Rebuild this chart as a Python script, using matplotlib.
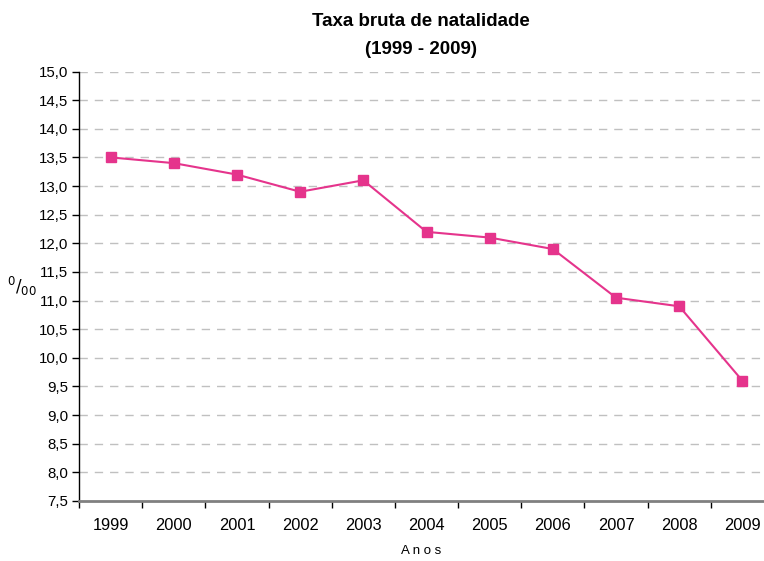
import matplotlib
matplotlib.use("Agg")
import matplotlib.pyplot as plt
import numpy as np

anos = ["1999", "2000", "2001", "2002", "2003", "2004", "2005", "2006", "2007", "2008", "2009"]
taxa = [13.5, 13.4, 13.2, 12.9, 13.1, 12.2, 12.1, 11.9, 11.05, 10.9, 9.6]
yticks = [7.5, 8.0, 8.5, 9.0, 9.5, 10.0, 10.5, 11.0, 11.5, 12.0, 12.5, 13.0, 13.5, 14.0, 14.5, 15.0]

plt.rcParams['font.family'] = ['Liberation Sans', 'DejaVu Sans']

fig = plt.figure(figsize=(7.64, 5.61), dpi=100)
W, H = 764, 561
left, right, top, bottom = 79, 774, 71.5, 501
ax = fig.add_axes([left / W, 1 - bottom / H, (right - left) / W, (bottom - top) / H])

x = np.arange(len(anos))
ax.plot(x, taxa, color='#E5348C', lw=1.5, marker='s', markersize=6.5,
        markerfacecolor='#E5348C', markeredgecolor='#E5348C', zorder=3)

ax.set_xlim(-0.5, len(anos) - 0.5)
ax.set_ylim(7.5, 15.0)
ax.set_yticks(yticks)
ax.set_yticklabels([f"{v:.1f}".replace('.', ',') for v in yticks], fontsize=10.8)
ax.set_xticks(x)
ax.set_xticklabels(anos, fontsize=11.8)
ax.set_xticks(np.arange(len(anos)) - 0.5, minor=True)
ax.tick_params(axis='x', which='major', length=0, pad=12)
ax.tick_params(axis='x', which='minor', length=5, width=1, color='black', direction='out')
ax.tick_params(axis='y', length=5, width=1, direction='out', pad=3)

for v in yticks[1:]:
    ax.axhline(v, color='#C0C0C0', lw=1, ls=(0, (6, 5)), zorder=1)

for s in ['top', 'right']:
    ax.spines[s].set_visible(False)
ax.spines['left'].set_color('black')
ax.spines['left'].set_linewidth(1)
ax.spines['bottom'].set_color('#808080')
ax.spines['bottom'].set_linewidth(2)

fig.text(421 / W, 1 - 21 / H, "Taxa bruta de natalidade", ha='center', va='center',
         fontsize=13.5, fontweight='bold')
fig.text(421 / W, 1 - 49 / H, "(1999 - 2009)", ha='center', va='center',
         fontsize=13.5, fontweight='bold')
fig.text(421 / W, 1 - 551 / H, "A n o s", ha='center', va='center', fontsize=9.5)
fig.text(22 / W, 1 - 286 / H, r'$^{0}/_{00}$', ha='center', va='center', fontsize=12)

fig.savefig("out.png", dpi=100)
